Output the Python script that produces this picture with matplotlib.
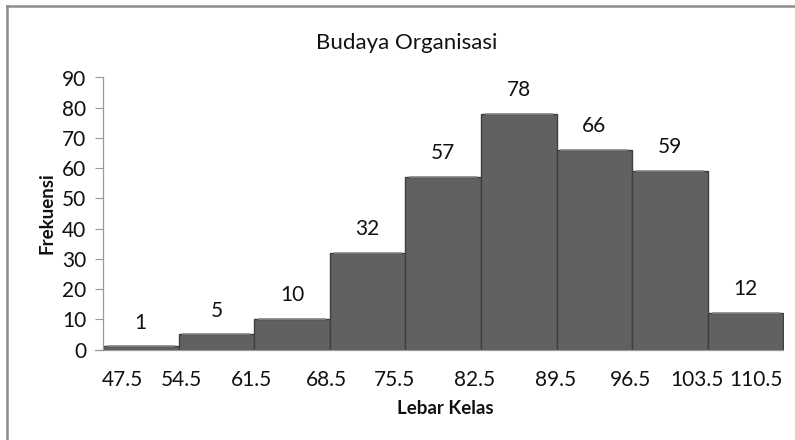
import matplotlib
matplotlib.use("Agg")
import matplotlib.pyplot as plt
from matplotlib.lines import Line2D
import numpy as np

plt.rcParams['font.family'] = ['Lato', 'DejaVu Sans']

title = "Budaya Organisasi"
xlabel = "Lebar Kelas"
ylabel = "Frekuensi"
frequencies = [1, 5, 10, 32, 57, 78, 66, 59, 12]
tick_labels = ["47.5", "54.5", "61.5", "68.5", "75.5", "82.5", "89.5", "96.5", "103.5", "110.5"]
# label positions (in bar-index units) as they appear in the original figure
tick_positions = [0.26, 1.04, 1.97, 2.96, 3.86, 4.92, 5.98, 6.97, 7.85, 8.63]
y_ticks = list(range(0, 91, 10))

fig = plt.figure(figsize=(7.95, 4.40), dpi=100)
ax = fig.add_axes([103/795, 1-349.5/440, 680.5/795, 272/440])

x = np.arange(len(frequencies)) + 0.5
bars = ax.bar(x, frequencies, width=1.0, color='#616161', edgecolor='#3f3f3f', linewidth=1.0, zorder=2)

# subtle top bevel highlight
for b in bars:
    bx, bw, bh = b.get_x(), b.get_width(), b.get_height()
    ax.plot([bx + 0.05, bx + bw - 0.05], [bh, bh], color='#8a8a8a', lw=1.2, zorder=3,
            solid_capstyle='butt')

for xi, v in zip(x, frequencies):
    ax.annotate(str(v), (xi, v), xytext=(0, 10), textcoords='offset points',
                ha='center', va='bottom', fontsize=15, color='#111111')

ax.set_xlim(0, len(frequencies))
ax.set_ylim(0, 90)
ax.set_yticks(y_ticks)
ax.set_xticks(tick_positions)
ax.set_xticklabels(tick_labels)
ax.tick_params(axis='x', length=0, pad=15, labelsize=15, colors='#111111')
ax.tick_params(axis='y', length=6, width=0.8, direction='out', pad=6, labelsize=15,
               color='#999999', labelcolor='#111111')

for s in ['top', 'right']:
    ax.spines[s].set_visible(False)
ax.spines['left'].set_color('#999999')
ax.spines['bottom'].set_color('#999999')
ax.spines['left'].set_linewidth(0.9)
ax.spines['bottom'].set_linewidth(0.9)
ax.spines['bottom'].set_bounds(-0.1, len(frequencies))

fig.text(407/795, 1-43/440, title, ha='center', va='center', fontsize=16, color='#111111')
fig.text(445/795, 1-408/440, xlabel, ha='center', va='center', fontsize=13.5, fontweight='bold', color='#111111')
fig.text(47/795, 1-213/440, ylabel, ha='center', va='center', rotation=90, fontsize=13.5,
         fontweight='bold', color='#111111')

# outer frame (left and top)
fig.add_artist(Line2D([7/795, 7/795], [0, 1-6.5/440], transform=fig.transFigure, color='#8c8c8c', lw=1.8))
fig.add_artist(Line2D([7/795, 1], [1-6.5/440, 1-6.5/440], transform=fig.transFigure, color='#8c8c8c', lw=1.8))

fig.savefig("out.png", dpi=100)
